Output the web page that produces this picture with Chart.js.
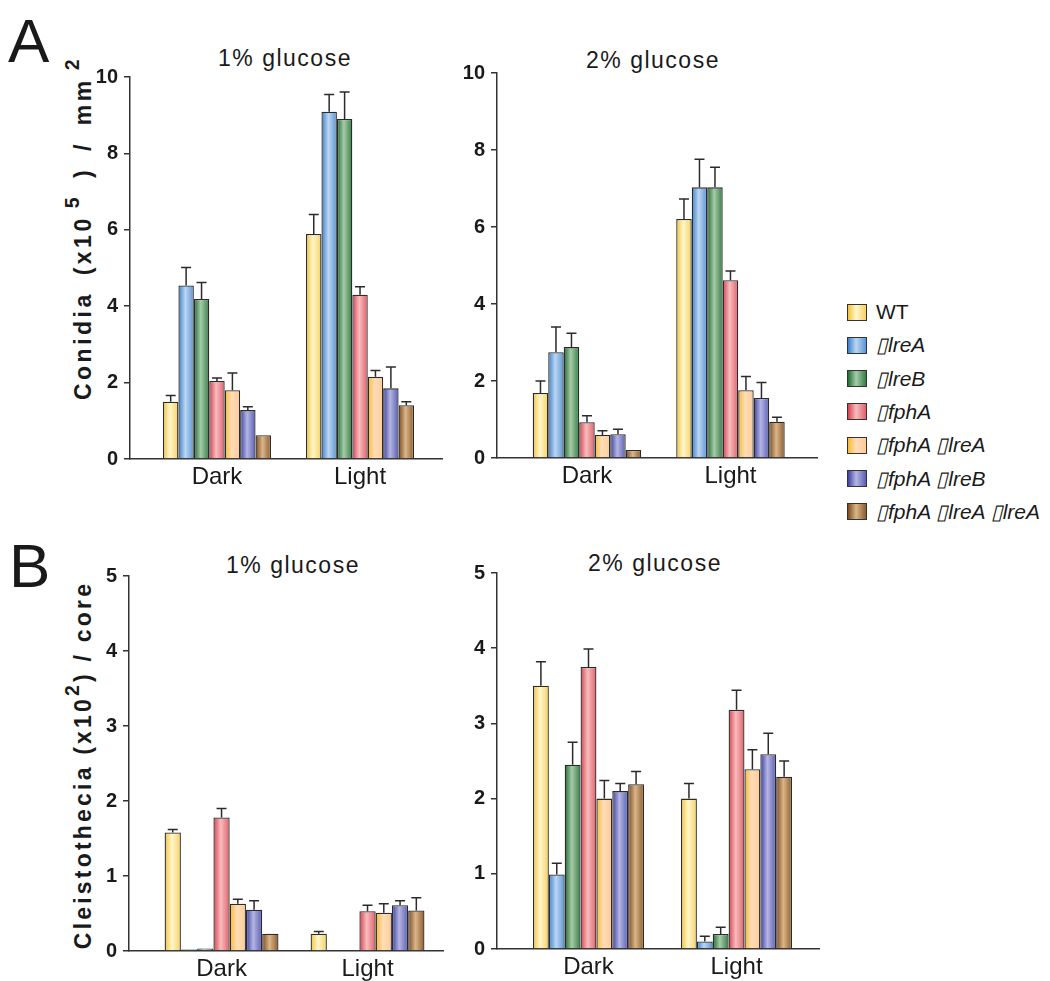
<!DOCTYPE html>
<html lang="en">
<head>
<meta charset="UTF-8">
<title>Conidia and cleistothecia</title>
<script src="https://cdn.jsdelivr.net/npm/chart.js"></script>
<style>
  body {
    margin: 0;
    width: 1050px;
    height: 981px;
    overflow: hidden;
    position: relative;
    background: #fff;
    color: #1a1a1a;
    font-family: "Liberation Sans", Arial, sans-serif;
  }
  canvas { position: absolute; }
  .letter { position: absolute; font-size: 62px; line-height: 1; }
  .title {
    position: absolute;
    font-size: 23px;
    line-height: 1;
    letter-spacing: 1.5px;
    white-space: nowrap;
    transform: translateX(-50%);
  }
  .ytitle {
    position: absolute;
    font-size: 23px;
    font-weight: bold;
    line-height: 1;
    white-space: nowrap;
    transform: translate(-50%, -50%) rotate(-90deg);
  }
  .ytitle sup { font-size: 0.85em; vertical-align: 0.6em; line-height: 0; }
  #ytitleA { letter-spacing: 3.5px; word-spacing: 6px; }
  #ytitleA sup { margin-left: 7px; }
  #ytitleB { letter-spacing: 3.2px; }
  .row {
    position: absolute;
    left: 847px;
    height: 24px;
    display: flex;
    align-items: center;
    white-space: nowrap;
    font-size: 21px;
  }
  .swatch { width: 18px; height: 15px; border: 1.5px solid #333; margin-right: 9px; }
</style>
</head>
<body>
  <div class="letter" style="left:8px; top:10px;">A</div>
  <div class="letter" style="left:9px; top:535px;">B</div>

  <div class="title" style="left:285px; top:47px;">1% glucose</div>
  <div class="title" style="left:653px; top:49px;">2% glucose</div>
  <div class="title" style="left:293px; top:554px;">1% glucose</div>
  <div class="title" style="left:655px; top:552px;">2% glucose</div>

  <div class="ytitle" id="ytitleA" style="left:83px; top:228px;">Conidia (x10<sup>5</sup> ) / mm<sup>2</sup></div>
  <div class="ytitle" id="ytitleB" style="left:83px; top:765px;">Cleistothecia (x10<sup>2</sup>) / core</div>

  <canvas id="conidia1" width="370" height="440" style="left:80px; top:59px;"></canvas>
  <canvas id="conidia2" width="378" height="443" style="left:447px; top:55px;"></canvas>
  <canvas id="cleisto1" width="372" height="433" style="left:79px; top:558px;"></canvas>
  <canvas id="cleisto2" width="380" height="434" style="left:447px; top:555px;"></canvas>

  <div id="legend"></div>

<script>
// categories and strains
const groups = ['Dark', 'Light'];
const strains = ['WT', '▯lreA', '▯lreB', '▯fphA', '▯fphA ▯lreA', '▯fphA ▯lreB', '▯fphA ▯lreA ▯lreA'];

// bar colours: left edge, highlight, right edge
const edgeColors  = ['#F2C23A', '#3A7FCB', '#1E6A34', '#D63F4E', '#F5B935', '#3B3F9E', '#7A4A1E'];
const lightColors = ['#FFF6CC', '#BCD6F2', '#A7CBA8', '#F7BDBE', '#FFDDB8', '#B4B5E2', '#D9B68A'];
const rightColors = ['#F7D160', '#5A95D6', '#347E46', '#E0606A', '#FFC995', '#5A5EB4', '#8E5C2C'];

// A: conidia (x10^5 / mm2), mean and +SD
const conidia1Dark    = [1.50, 4.54, 4.19, 2.04, 1.80, 1.28, 0.62];
const conidia1DarkSd  = [0.16, 0.47, 0.43, 0.08, 0.45, 0.09, 0];
const conidia1Light   = [5.89, 9.09, 8.90, 4.30, 2.15, 1.85, 1.41];
const conidia1LightSd = [0.51, 0.45, 0.71, 0.21, 0.17, 0.56, 0.09];

const conidia2Dark    = [1.69, 2.75, 2.88, 0.93, 0.60, 0.62, 0.21];
const conidia2DarkSd  = [0.31, 0.65, 0.36, 0.17, 0.11, 0.13, 0];
const conidia2Light   = [6.21, 7.03, 7.03, 4.62, 1.76, 1.56, 0.94];
const conidia2LightSd = [0.52, 0.73, 0.52, 0.24, 0.36, 0.40, 0.12];

// B: cleistothecia (x10^2 / core)
const cleisto1Dark    = [1.58, 0.02, 0.035, 1.78, 0.63, 0.55, 0.23];
const cleisto1DarkSd  = [0.04, 0, 0, 0.12, 0.06, 0.12, 0];
const cleisto1Light   = [0.23, 0.01, 0.01, 0.53, 0.51, 0.61, 0.54];
const cleisto1LightSd = [0.03, 0, 0, 0.08, 0.12, 0.06, 0.17];

const cleisto2Dark    = [3.50, 0.99, 2.45, 3.75, 2.00, 2.10, 2.19];
const cleisto2DarkSd  = [0.32, 0.15, 0.30, 0.24, 0.24, 0.10, 0.17];
const cleisto2Light   = [2.00, 0.10, 0.20, 3.18, 2.39, 2.59, 2.29];
const cleisto2LightSd = [0.20, 0.07, 0.09, 0.26, 0.26, 0.28, 0.21];

const FONT = '"Liberation Sans", Arial, sans-serif';

// shaded bars: horizontal gradient across each bar
const gradientBars = {
  id: 'gradientBars',
  beforeDatasetsDraw(chart) {
    const ctx = chart.ctx;
    chart.data.datasets.forEach((ds, i) => {
      chart.getDatasetMeta(i).data.forEach(bar => {
        const { x, width } = bar.getProps(['x', 'width'], true);
        const g = ctx.createLinearGradient(x - width / 2, 0, x + width / 2, 0);
        g.addColorStop(0, edgeColors[i]);
        g.addColorStop(0.45, lightColors[i]);
        g.addColorStop(1, rightColors[i]);
        bar.options.backgroundColor = g;
      });
    });
  }
};

// error bars (upper half only)
const errorBars = {
  id: 'errorBars',
  afterDatasetsDraw(chart) {
    const ctx = chart.ctx;
    const yScale = chart.scales.y;
    ctx.save();
    ctx.strokeStyle = '#2b2b2b';
    ctx.lineWidth = 1.5;
    chart.data.datasets.forEach((ds, i) => {
      chart.getDatasetMeta(i).data.forEach((bar, j) => {
        const sd = ds.sd[j];
        if (!sd) return;
        const top = yScale.getPixelForValue(ds.data[j].y + sd);
        ctx.beginPath();
        ctx.moveTo(bar.x, bar.y);
        ctx.lineTo(bar.x, top);
        ctx.moveTo(bar.x - 5, top);
        ctx.lineTo(bar.x + 5, top);
        ctx.stroke();
      });
    });
    ctx.restore();
  }
};

function makePanel(id, dark, darkSd, light, lightSd, yMax, yStep, xMin, xMax, groupPct) {
  return new Chart(document.getElementById(id), {
    type: 'bar',
    data: {
      datasets: strains.map((s, i) => ({
        label: s,
        data: [{ x: 0, y: dark[i] }, { x: 1, y: light[i] }],
        sd: [darkSd[i], lightSd[i]],
        backgroundColor: () => edgeColors[i], // replaced by gradient at draw time
        borderColor: '#2b2b2b',
        borderWidth: 1.3,
        barPercentage: 1,
        categoryPercentage: groupPct
      }))
    },
    options: {
      responsive: false,
      animation: false,
      events: [],
      layout: { padding: { top: 16, right: 8, left: 0, bottom: 0 } },
      plugins: { legend: { display: false }, tooltip: { enabled: false } },
      scales: {
        x: {
          type: 'linear',
          min: xMin,
          max: xMax,
          offset: false,
          afterBuildTicks: s => { s.ticks = [{ value: 0 }, { value: 1 }]; },
          afterFit: s => { s.height = 40; },
          grid: { display: false, offset: false },
          border: { display: true, color: '#333', width: 1.5 },
          ticks: {
            callback: v => groups[v],
            autoSkip: false,
            maxRotation: 0,
            padding: -4,
            color: '#1a1a1a',
            font: { family: FONT, size: 24 }
          }
        },
        y: {
          min: 0,
          max: yMax,
          afterFit: s => { s.width = 50; },
          grid: { drawOnChartArea: false, drawTicks: true, tickLength: 6, color: '#333', lineWidth: 1.5 },
          border: { display: true, color: '#333', width: 1.5 },
          ticks: {
            stepSize: yStep,
            padding: 6,
            color: '#1a1a1a',
            font: { family: FONT, size: 20, weight: 'bold' }
          }
        }
      }
    },
    plugins: [gradientBars, errorBars]
  });
}

makePanel('conidia1', conidia1Dark, conidia1DarkSd, conidia1Light, conidia1LightSd, 10, 2, -0.608, 1.573, 0.755);
makePanel('conidia2', conidia2Dark, conidia2DarkSd, conidia2Light, conidia2LightSd, 10, 2, -0.627, 1.603, 0.756);
makePanel('cleisto1', cleisto1Dark, cleisto1DarkSd, cleisto1Light, cleisto1LightSd, 5, 1, -0.634, 1.517, 0.78);
makePanel('cleisto2', cleisto2Dark, cleisto2DarkSd, cleisto2Light, cleisto2LightSd, 5, 1, -0.618, 1.557, 0.75);

// legend
const legend = document.getElementById('legend');
strains.forEach((s, i) => {
  const row = document.createElement('div');
  row.className = 'row';
  row.style.top = (312 + 33.3 * i - 12) + 'px';
  const sw = document.createElement('div');
  sw.className = 'swatch';
  sw.style.background = `linear-gradient(to right, ${edgeColors[i]} 0%, ${lightColors[i]} 45%, ${rightColors[i]} 100%)`;
  const txt = document.createElement('span');
  txt.textContent = s;
  if (i > 0) txt.style.fontStyle = 'italic';
  row.appendChild(sw);
  row.appendChild(txt);
  legend.appendChild(row);
});
</script>
</body>
</html>
